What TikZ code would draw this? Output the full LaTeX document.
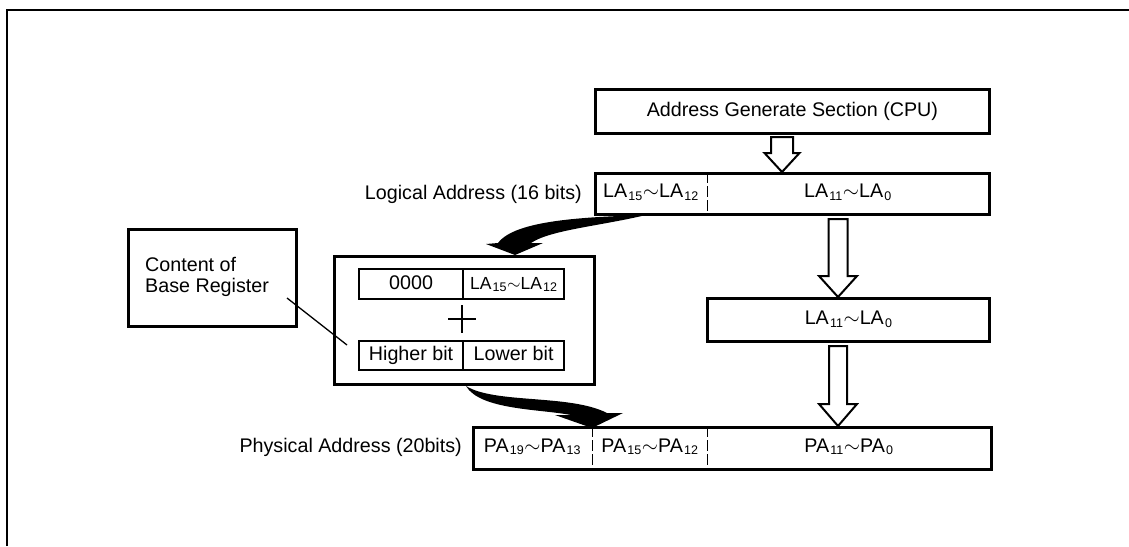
\documentclass[tikz,border=0pt]{standalone}
\usepackage{fontspec}
\setmainfont{Liberation Sans}
\usetikzlibrary{calc}
\newcommand\sbs[1]{\hspace{1.2pt}\raisebox{-0.25ex}{\fontsize{12.5}{13}\selectfont #1}\hspace{0.6pt}}
\newcommand\wv{\ensuremath{\sim}}
\newcommand\hollowarr[5]{%
  \draw[hollow] let \p1=(#1), \p2=(#2) in
    (\x1-#3pt,\y1) -- (\x1+#3pt,\y1) -- (\x1+#3pt,\y2+#5pt) -- (\x1+#4pt,\y2+#5pt)
    -- (\x2,\y2) -- (\x1-#4pt,\y2+#5pt) -- (\x1-#3pt,\y2+#5pt) -- cycle;}
\begin{document}
\begin{tikzpicture}[x=1pt,y=-1pt,
  font=\fontsize{19.7}{21}\selectfont,
  box/.style={draw, line width=2.8pt, inner sep=0pt, anchor=north west},
  cell/.style={inner sep=0pt, anchor=north west, text height=14pt, text depth=4pt},
  ibox/.style={draw, line width=2.2pt, inner sep=0pt, anchor=north west, text height=14pt, text depth=4pt},
  hollow/.style={draw, line width=2pt, fill=white, line join=miter},
  divider/.style={line width=1.5pt, dash pattern=on 11pt off 3pt},
  swoosh/.style={fill=black},
  lead/.style={line width=1.3pt},
  lbl/.style={inner sep=0pt, anchor=east}]
\useasboundingbox (0,0) rectangle (1129,546);
\fill[white] (0,0) rectangle (1129,546);
\draw[line width=2.6pt] (7,546) -- (7,10) -- (1129,10);

% CPU box
\node[box, minimum width=394, minimum height=44] (ag) at (594,88) {Address Generate Section (CPU)};

% Logical address bar
\node[box, minimum width=394, minimum height=41] (lbar) at (594,172) {};
\node[cell, minimum width=113, minimum height=41] (lhi) at (594,172) {LA\sbs{15}\wv LA\sbs{12}};
\node[cell, minimum width=281, minimum height=41] (llo) at (707,172) {LA\sbs{11}\wv LA\sbs{0}};
\draw[divider] (lhi.north east) -- (lhi.south east);
\node[lbl] (llab) at (582,194) {Logical Address (16 bits)};

% LA11-LA0 box
\node[box, minimum width=282, minimum height=43, text height=14pt, text depth=4pt] (lmid) at (706,297) {LA\sbs{11}\wv LA\sbs{0}};

% Physical address bar
\node[box, minimum width=518, minimum height=42] (pbar) at (472,426) {};
\node[cell, minimum width=120, minimum height=42] (p1) at (472,426) {PA\sbs{19}\wv PA\sbs{13}};
\node[cell, minimum width=115, minimum height=42] (p2) at (592,426) {PA\sbs{15}\wv PA\sbs{12}};
\node[cell, minimum width=283, minimum height=42] (p3) at (707,426) {PA\sbs{11}\wv PA\sbs{0}};
\draw[divider] (p1.north east) -- (p1.south east);
\draw[divider] (p2.north east) -- (p2.south east);
\node[lbl] (plab) at (462,447) {Physical Address (20bits)};

% Content of base register
\node[box, minimum width=168, minimum height=97] (cbr) at (127,228) {};
\node[anchor=west, align=left, inner sep=0pt] (cbrt) at (145,277) {Content of\\Base Register};

% Middle adder box
\node[box, minimum width=260, minimum height=128] (mid) at (333,255) {};
\node[ibox, minimum width=104, minimum height=30] (r1a) at (358,268) {0000};
\node[ibox, minimum width=101, minimum height=30, font=\fontsize{17.5}{20}\selectfont] (r1b) at (462,268) {LA\sbs{15}\wv LA\sbs{12}};
\node[ibox, minimum width=104, minimum height=29] (r2a) at (358,340) {Higher bit};
\node[ibox, minimum width=101, minimum height=29] (r2b) at (462,340) {Lower bit};
\coordinate (plus) at (462,319);
\draw[line width=1.4pt] ($(plus)+(-14,0)$) -- ($(plus)+(14,0)$)
  ($(plus)+(0,-14)$) -- ($(plus)+(0,14)$);

% leader line
\coordinate (lead1) at (287,298);
\coordinate (lead2) at (347,345);
\draw[lead] (lead1) -- (lead2);

% hollow arrows
\coordinate (h1s) at (782,137); \coordinate (h1t) at (782,172);
\coordinate (h2s) at (838,219); \coordinate (h2t) at (838,297);
\coordinate (h3s) at (838,346); \coordinate (h3t) at (838,426);
\hollowarr{h1s}{h1t}{11}{17.5}{19}
\hollowarr{h2s}{h2t}{9.5}{19}{21}
\hollowarr{h3s}{h3t}{9}{19}{22}

% black swoosh arrows
\coordinate (s1a) at (646,215);
\coordinate (s1b) at (515,255);
\fill[swoosh] (s1a) .. controls (585,217) and (515,220) .. (498,243) -- (486,244) -- (s1b)
  -- (543,243) -- (531,243) .. controls (550,230) and (600,226) .. (s1a) -- cycle;
\coordinate (s2a) at (466,386);
\coordinate (s2b) at (592,428);
\fill[swoosh] (s2a) .. controls (495,404) and (570,394) .. (607,413) -- (623,413) -- (s2b)
  -- (555,415) -- (571,415) .. controls (540,409) and (480,410) .. (s2a) -- cycle;
\end{tikzpicture}
\end{document}
